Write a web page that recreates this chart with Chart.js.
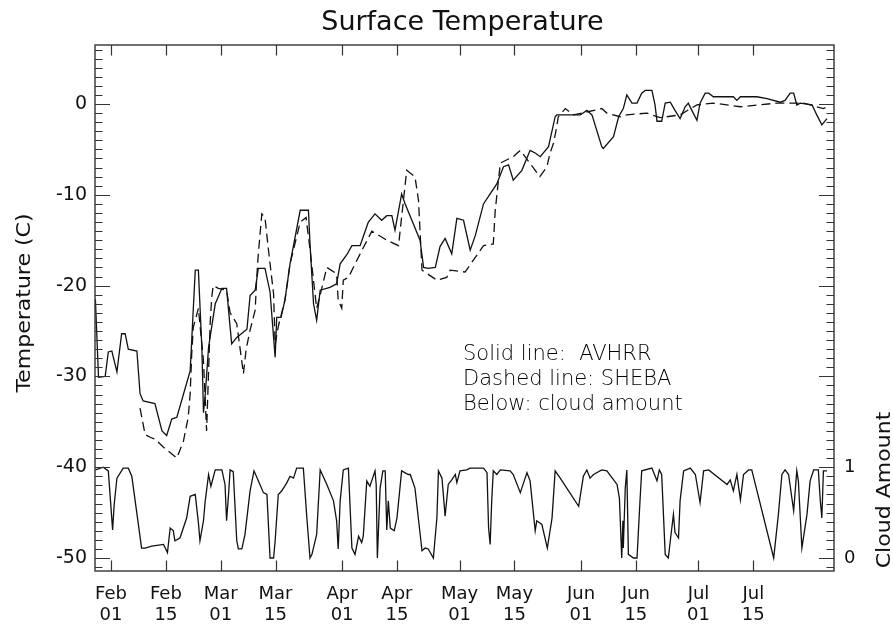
<!DOCTYPE html>
<html>
<head>
<meta charset="utf-8">
<script src="https://cdn.jsdelivr.net/npm/chart.js@4.4.0/dist/chart.umd.min.js"></script>
<style>
  html, body { margin: 0; padding: 0; background: #fff; }
  #c { display: block; }
</style>
</head>
<body>
<canvas id="c" width="893" height="626"></canvas>
<script>
// x values are day of year (1998), temps in deg C, cloud amount 0..1
const avhrrDay = [28.0,28.8,30.5,31.3,32.2,33.5,34.7,35.6,36.4,38.6,39.4,40.2,43.2,45.0,46.2,47.5,48.8,52.2,53.5,54.3,55.2,55.6,56.0,56.9,58.6,59.0,60.3,61.5,62.0,62.8,64.1,66.7,67.5,68.8,69.6,71.3,72.6,73.5,73.9,74.3,75.4,76.4,77.7,80.3,82.4,82.8,83.7,84.5,85.4,87.9,89.6,90.5,92.2,93.5,95.6,96.4,97.7,99.4,101.1,102.4,103.7,104.5,106.2,107.1,110.9,111.8,113.0,114.8,116.0,117.3,119.0,120.3,122.0,123.7,125.0,127.1,128.8,130.5,132.2,133.5,134.7,136.9,139.0,140.3,141.6,143.7,145.4,145.8,151.8,153.5,154.8,157.3,157.7,160.3,161.6,162.8,163.7,165.0,166.3,167.5,168.4,170.1,170.9,171.4,172.6,173.5,174.8,176.0,177.3,178.6,179.4,180.3,181.6,182.4,183.7,184.6,185.8,190.9,191.8,192.7,196.9,199.5,202.9,204.1,205.4,206.3,207.1,208.0,211.0,212.2,213.5,214.8];
const avhrrTemp = [-21.5,-30.1,-30.0,-27.3,-27.2,-29.5,-25.3,-25.3,-27.0,-27.2,-31.9,-32.7,-33.0,-36.0,-36.5,-34.7,-34.5,-29.4,-18.3,-18.3,-27.0,-34.0,-32.3,-26.8,-22.0,-21.6,-20.3,-20.3,-22.7,-26.4,-25.7,-24.8,-21.1,-20.5,-18.1,-18.1,-20.7,-25.7,-27.9,-23.5,-23.5,-21.6,-17.6,-11.7,-11.7,-15.4,-22.0,-23.8,-20.5,-20.2,-19.8,-17.6,-16.6,-15.6,-15.6,-14.6,-13.0,-12.1,-12.8,-12.3,-12.3,-13.9,-9.9,-11.0,-15.0,-18.0,-18.1,-18.0,-15.7,-14.8,-16.5,-12.6,-12.8,-16.1,-14.5,-11.0,-9.9,-8.8,-6.9,-6.7,-8.4,-7.3,-5.1,-5.4,-5.8,-4.7,-1.4,-1.2,-1.2,-0.7,-1.2,-4.7,-4.9,-3.6,-1.4,-0.5,1.0,0.1,0.1,1.2,1.5,1.5,-0.1,-1.9,-1.9,0.1,0.2,-0.7,-1.6,-0.3,0.1,-0.7,-1.8,0.1,1.2,1.2,0.8,0.8,0.4,0.8,0.8,0.6,0.2,0.4,1.2,1.2,-0.1,0.1,-0.1,-1.2,-2.3,-1.6];

const shebaDay = [39.4,39.8,40.7,42.0,43.2,45.4,48.8,50.5,51.7,52.2,52.6,53.0,54.3,55.6,56.4,56.9,57.3,57.7,58.1,59.4,61.5,62.4,64.1,65.8,66.5,67.5,68.8,69.2,69.6,70.5,71.3,72.2,73.5,73.9,74.7,76.4,77.7,80.3,81.8,82.8,84.5,85.4,87.1,89.6,90.0,90.9,91.3,92.6,95.6,98.6,102.4,105.4,107.5,109.6,110.5,111.4,115.2,117.7,118.6,122.4,127.1,129.6,130.1,131.4,134.7,136.5,141.5,143.3,144.1,145.0,145.8,146.2,148.0,150.1,157.3,158.6,162.0,163.7,168.8,172.2,177.3,181.6,185.8,192.7,202.0,208.8,213.9,214.9];
const shebaTemp = [-33.5,-34.4,-36.4,-36.7,-36.9,-37.8,-39.0,-37.1,-34.5,-31.9,-27.5,-24.6,-22.5,-28.3,-36.0,-29.4,-24.2,-21.3,-20.0,-20.3,-20.5,-23.0,-24.2,-29.7,-27.0,-24.9,-22.7,-19.1,-16.5,-12.1,-12.5,-16.1,-20.9,-26.5,-24.5,-21.6,-17.6,-13.0,-12.5,-16.0,-22.5,-21.0,-18.0,-18.7,-21.6,-22.5,-19.4,-19.1,-16.5,-14.0,-15.0,-15.6,-7.3,-8.0,-10.6,-18.3,-19.4,-19.1,-18.3,-18.5,-15.6,-15.4,-11.7,-6.5,-5.8,-5.1,-8.0,-6.9,-5.4,-4.3,-2.5,-1.4,-0.5,-1.2,-0.5,-1.0,-1.4,-1.2,-1.0,-1.5,-1.2,-0.1,0.1,-0.3,0.1,0.1,-0.5,-0.3];

const cloudDay = [28.0,30.0,31.3,32.4,32.8,33.5,35.1,36.4,37.3,39.8,40.7,42.4,45.4,46.4,47.1,47.9,48.3,49.6,51.3,52.2,53.5,54.3,54.7,55.6,56.0,56.9,57.5,58.6,60.3,61.1,61.5,62.0,62.4,63.2,64.1,64.5,65.4,66.2,67.5,68.5,69.6,70.9,71.8,72.6,73.5,73.9,74.7,75.6,76.9,77.7,78.6,79.4,81.1,82.0,82.8,83.3,84.5,85.4,87.1,88.8,89.6,90.0,90.5,91.3,92.6,93.5,94.3,95.2,96.0,96.4,97.3,98.1,99.4,99.7,100.0,100.7,101.4,102.0,102.4,102.8,103.3,104.3,105.0,106.2,107.9,108.4,109.6,111.4,112.2,113.0,114.3,115.2,115.6,116.5,117.3,118.1,119.0,119.9,120.3,121.1,122.8,123.7,127.1,128.0,128.4,128.8,129.2,129.6,130.5,131.4,133.9,134.7,136.5,138.2,139.0,140.3,140.7,142.0,143.4,144.6,145.4,146.7,151.4,152.6,153.5,154.3,155.2,157.3,158.6,161.2,161.8,162.4,162.7,162.8,163.3,163.7,164.1,165.4,166.3,167.1,167.5,170.1,171.4,172.0,172.6,173.5,174.3,174.8,175.6,176.0,176.9,177.3,178.2,179.9,181.2,182.4,183.3,184.6,189.3,190.1,190.9,191.8,192.7,193.5,194.8,195.6,201.2,202.4,203.3,204.1,205.0,206.3,207.1,207.5,208.4,209.7,210.5,211.4,212.6,213.1,213.5,213.9,214.8];
const cloudAmount = [0.97,1.0,0.96,0.31,0.59,0.88,0.99,0.99,0.9,0.11,0.11,0.13,0.15,0.06,0.33,0.30,0.19,0.22,0.44,0.68,0.70,0.39,0.19,0.41,0.61,0.92,0.79,0.97,0.97,0.81,0.41,0.70,0.97,0.95,0.19,0.10,0.10,0.26,0.74,0.96,0.85,0.72,0.70,0.0,0.0,0.19,0.70,0.74,0.83,0.90,0.88,0.99,0.99,0.44,0.0,0.04,0.26,0.97,0.81,0.63,0.41,0.10,0.63,0.97,0.99,0.11,0.04,0.24,0.17,0.24,0.85,0.79,0.96,0.81,0.0,0.77,0.96,0.96,0.31,0.63,0.33,0.30,0.44,0.96,0.92,0.92,0.77,0.08,0.11,0.10,0.0,0.44,0.96,0.88,0.46,0.81,0.86,0.92,0.83,0.96,0.97,0.99,0.99,0.94,0.33,0.15,0.63,0.96,0.92,0.97,0.96,0.92,0.72,0.94,0.85,0.30,0.41,0.37,0.11,0.44,0.96,0.88,0.57,0.90,0.97,0.88,0.92,0.97,0.96,0.81,0.66,0.0,0.41,0.11,0.77,0.97,0.04,0.0,0.0,0.66,0.96,0.99,0.85,0.97,0.92,0.04,0.0,0.19,0.48,0.28,0.22,0.63,0.96,0.99,0.92,0.61,0.96,0.97,0.81,0.86,0.74,0.92,0.64,0.92,0.97,0.97,0.0,0.48,0.92,0.97,0.92,0.52,0.96,0.85,0.11,0.48,0.85,0.97,0.97,0.63,0.44,0.96,0.96];

const xTickDays = [32, 46, 60, 74, 91, 105, 121, 135, 152, 166, 182, 196];
const xTickLabels = [['Feb','01'],['Feb','15'],['Mar','01'],['Mar','15'],['Apr','01'],['Apr','15'],
                     ['May','01'],['May','15'],['Jun','01'],['Jun','15'],['Jul','01'],['Jul','15']];
const yTicks = [-50, -40, -30, -20, -10, 0];
const cloudTicks = [0, 1];

const X_MIN = 27.9, X_MAX = 216.6;
const Y_MIN = -51.43, Y_MAX = 6.5;
// cloud amount 0 sits on -50 C and 1 on -40 C
const CLOUD_BASE = -50, CLOUD_SPAN = 10;

const FONT = "'DejaVu Sans', 'Liberation Sans', sans-serif";
const INK = '#111';

const toPts = (xs, ys) => xs.map((x, i) => ({ x: x, y: ys[i] }));

// rotated axis title, stretched a bit like the IDL vector font
function sideTitle(ctx, text, x, y) {
  ctx.save();
  ctx.translate(x, y);
  ctx.rotate(-Math.PI / 2);
  ctx.scale(1.16, 1);
  ctx.fillText(text, 0, 0);
  ctx.restore();
}

// IDL-style box with inward ticks, plus titles and the note
const boxPlugin = {
  id: 'idlBox',
  afterDraw(chart) {
    const ctx = chart.ctx;
    const a = chart.chartArea;
    const xs = chart.scales.x, ys = chart.scales.y;
    ctx.save();
    ctx.strokeStyle = '#333';
    ctx.lineWidth = 1.4;
    ctx.strokeRect(a.left, a.top, a.right - a.left, a.bottom - a.top);

    ctx.lineWidth = 1.2;
    ctx.beginPath();
    for (let v = Math.ceil(Y_MIN); v <= Math.floor(Y_MAX); v++) {
      const py = Math.round(ys.getPixelForValue(v)) + 0.5;
      const len = (v % 10 === 0) ? 15 : 7.5;
      ctx.moveTo(a.left, py); ctx.lineTo(a.left + len, py);
      ctx.moveTo(a.right, py); ctx.lineTo(a.right - len, py);
    }
    xTickDays.forEach(d => {
      const px = Math.round(xs.getPixelForValue(d)) + 0.5;
      ctx.moveTo(px, a.bottom); ctx.lineTo(px, a.bottom - 10.5);
      ctx.moveTo(px, a.top); ctx.lineTo(px, a.top + 10.5);
    });
    ctx.stroke();

    ctx.fillStyle = INK;
    ctx.textAlign = 'center';
    ctx.textBaseline = 'alphabetic';
    ctx.font = '27px ' + FONT;
    ctx.fillText('Surface Temperature', 462.5, 30);

    ctx.font = '19px ' + FONT;
    ctx.textBaseline = 'middle';
    sideTitle(ctx, 'Temperature (C)', 25, 303);
    sideTitle(ctx, 'Cloud Amount', 885, 490);

    ctx.textAlign = 'left';
    ctx.textBaseline = 'alphabetic';
    ctx.fillStyle = '#000';
    ctx.font = '200 21px ' + FONT;
    ctx.fillText('Solid line:  AVHRR', 463, 360);
    ctx.fillText('Dashed line: SHEBA', 463, 385);
    ctx.fillText('Below: cloud amount', 463, 410);
    ctx.restore();
  }
};

const ctx = document.getElementById('c').getContext('2d');
new Chart(ctx, {
  type: 'line',
  data: {
    datasets: [
      { label: 'AVHRR', data: toPts(avhrrDay, avhrrTemp), yAxisID: 'y',
        borderColor: INK, borderWidth: 1.3, pointRadius: 0, tension: 0, fill: false },
      { label: 'SHEBA', data: toPts(shebaDay, shebaTemp), yAxisID: 'y',
        borderColor: INK, borderWidth: 1.3, borderDash: [9, 5], pointRadius: 0, tension: 0, fill: false },
      { label: 'Cloud amount', data: toPts(cloudDay, cloudAmount), yAxisID: 'y2',
        borderColor: INK, borderWidth: 1.3, pointRadius: 0, tension: 0, fill: false }
    ]
  },
  options: {
    responsive: false,
    animation: false,
    devicePixelRatio: 1,
    layout: { padding: { top: 45, left: 0, right: 0, bottom: 0 } },
    plugins: { legend: { display: false }, tooltip: { enabled: false }, title: { display: false } },
    scales: {
      x: {
        type: 'linear', position: 'bottom', min: X_MIN, max: X_MAX,
        grid: { display: false, drawTicks: false }, border: { display: false },
        afterBuildTicks: s => { s.ticks = xTickDays.map(v => ({ value: v })); },
        afterFit: s => { s.height = 55; },
        ticks: {
          autoSkip: false, maxRotation: 0, padding: 13, color: INK,
          font: { family: FONT, size: 18, lineHeight: 1.17 },
          callback: (v, i) => xTickLabels[i]
        }
      },
      y: {
        type: 'linear', position: 'left', min: Y_MIN, max: Y_MAX,
        grid: { display: false, drawTicks: false }, border: { display: false },
        afterBuildTicks: s => { s.ticks = yTicks.map(v => ({ value: v })); },
        afterFit: s => { s.width = 95; },
        ticks: { padding: 8, color: INK, font: { family: FONT, size: 19 }, callback: v => String(v) }
      },
      y2: {
        type: 'linear', position: 'right',
        min: (Y_MIN - CLOUD_BASE) / CLOUD_SPAN, max: (Y_MAX - CLOUD_BASE) / CLOUD_SPAN,
        grid: { display: false, drawTicks: false }, border: { display: false },
        afterBuildTicks: s => { s.ticks = cloudTicks.map(v => ({ value: v })); },
        afterFit: s => { s.width = 59; },
        ticks: { padding: 10, color: INK, font: { family: FONT, size: 18 }, callback: v => String(v) }
      }
    }
  },
  plugins: [boxPlugin]
});
</script>
</body>
</html>
